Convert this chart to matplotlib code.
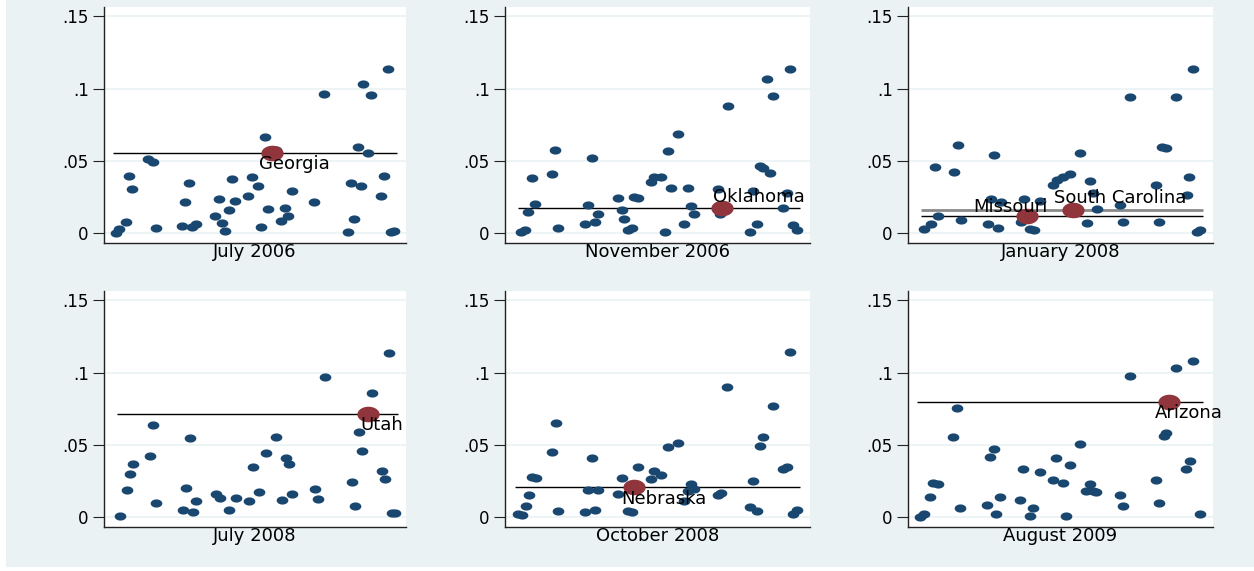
import matplotlib
matplotlib.use("Agg")
import matplotlib.pyplot as plt
import numpy as np
from matplotlib.path import Path
from matplotlib.patches import Rectangle

# x position of each state (shared index, 0-100), y = share, per period
jul06_x = [3.9, 5.0, 7.3, 8.3, 9.4, 14.7, 16.1, 17.1, 25.9, 26.8, 28.0, 29.2, 30.4,
           36.8, 38.1, 39.1, 40.1, 41.3, 42.3, 43.4, 47.8, 48.9, 51.1, 52.1, 53.3,
           54.4, 56.8, 58.6, 59.9, 61.0, 62.1, 69.6, 73.0, 80.7, 81.8, 82.9, 84.0,
           85.1, 85.9, 87.5, 88.4, 91.6, 92.7, 93.9, 94.9, 96.1]
jul06_y = [0.0005, 0.0032, 0.0076, 0.0396, 0.0306, 0.0511, 0.0495, 0.0037, 0.0048,
           0.0219, 0.0350, 0.0044, 0.0067, 0.0120, 0.0235, 0.0071, 0.0018, 0.0163,
           0.0373, 0.0221, 0.0260, 0.0391, 0.0324, 0.0044, 0.0667, 0.0168, 0.0575,
           0.0085, 0.0175, 0.0117, 0.0294, 0.0214, 0.0964, 0.0012, 0.0350, 0.0101,
           0.0598, 0.0329, 0.1031, 0.0557, 0.0959, 0.0255, 0.0398, 0.1132, 0.0007,
           0.0014]

nov06_x = [5.1, 6.6, 7.7, 8.7, 9.8, 15.3, 16.4, 17.5, 26.2, 27.3, 28.4, 29.5, 30.6,
           37.2, 38.3, 39.1, 40.4, 41.5, 42.4, 43.7, 47.9, 49.0, 51.1, 52.5, 53.3,
           54.4, 56.6, 58.8, 59.9, 61.0, 62.1, 69.7, 70.6, 73.0, 80.3, 81.4, 82.5,
           83.6, 84.7, 85.8, 86.9, 88.0, 91.3, 92.3, 93.4, 94.5, 95.6]
nov06_y = [0.0007, 0.0023, 0.0145, 0.0384, 0.0202, 0.0409, 0.0573, 0.0037, 0.0067,
           0.0193, 0.0522, 0.0078, 0.0131, 0.0246, 0.0161, 0.0097, 0.0023, 0.0035,
           0.0251, 0.0246, 0.0357, 0.0393, 0.0391, 0.0007, 0.0571, 0.0317, 0.0686,
           0.0067, 0.0315, 0.0189, 0.0136, 0.0306, 0.0133, 0.0879, 0.0007, 0.0292,
           0.0067, 0.0465, 0.0455, 0.1063, 0.0416, 0.0952, 0.0173, 0.0276, 0.1134,
           0.0055, 0.0021]

jan08_x = [5.4, 7.5, 8.9, 9.9, 15.2, 16.3, 17.4, 26.1, 27.2, 28.3, 29.4, 30.5, 37.0,
           38.1, 40.0, 41.3, 43.3, 47.7, 48.7, 50.9, 53.1, 56.4, 58.6, 59.7, 60.8,
           61.9, 69.5, 70.6, 72.8, 81.3, 82.4, 83.2, 84.6, 87.9, 91.4, 92.2, 93.3,
           94.6, 95.7]
jan08_y = [0.0028, 0.0064, 0.0458, 0.0120, 0.0423, 0.0607, 0.0094, 0.0064, 0.0235,
           0.0543, 0.0039, 0.0214, 0.0078, 0.0235, 0.0028, 0.0023, 0.0223, 0.0336,
           0.0370, 0.0391, 0.0412, 0.0557, 0.0071, 0.0359, 0.0281, 0.0166, 0.0193,
           0.0078, 0.0945, 0.0336, 0.0078, 0.0596, 0.0589, 0.0939, 0.0267, 0.0393,
           0.1136, 0.0007, 0.0023]

jul08_x = [5.3, 7.5, 8.5, 9.6, 15.1, 16.2, 17.3, 26.2, 27.3, 28.4, 29.5, 30.6, 37.0,
           38.3, 41.5, 43.6, 48.1, 49.2, 51.4, 53.6, 56.9, 58.9, 60.2, 61.3, 62.4,
           69.9, 71.0, 73.3, 82.1, 83.2, 84.3, 85.4, 88.7, 91.9, 93.0, 94.3, 95.2,
           96.5]
jul08_y = [0.0012, 0.0192, 0.0300, 0.0369, 0.0425, 0.0637, 0.0097, 0.0051, 0.0201,
           0.0547, 0.0035, 0.0115, 0.0159, 0.0132, 0.0048, 0.0134, 0.0113, 0.0351,
           0.0173, 0.0443, 0.0558, 0.0120, 0.0408, 0.0367, 0.0164, 0.0198, 0.0125,
           0.0972, 0.0245, 0.0081, 0.0591, 0.0462, 0.0856, 0.0318, 0.0268, 0.1138,
           0.0032, 0.0032]

oct08_x = [4.4, 5.7, 6.8, 7.9, 8.7, 10.1, 15.5, 16.6, 17.5, 26.2, 27.3, 28.4, 29.5,
           30.6, 36.9, 38.3, 40.4, 41.5, 43.5, 47.9, 49.0, 51.1, 53.3, 56.6, 58.8,
           59.9, 61.0, 62.1, 69.7, 70.8, 72.8, 80.3, 81.4, 82.7, 83.6, 84.7, 88.0,
           91.3, 92.3, 93.4, 94.5, 95.6]
oct08_y = [0.0021, 0.0016, 0.0076, 0.0152, 0.0282, 0.0275, 0.0455, 0.0655, 0.0044,
           0.0039, 0.0192, 0.0408, 0.0051, 0.0187, 0.0164, 0.0270, 0.0044, 0.0037,
           0.0346, 0.0263, 0.0323, 0.0293, 0.0487, 0.0512, 0.0115, 0.0182, 0.0228,
           0.0194, 0.0155, 0.0171, 0.0902, 0.0074, 0.0252, 0.0044, 0.0494, 0.0554,
           0.0769, 0.0332, 0.0346, 0.1140, 0.0021, 0.0051]

aug09_x = [4.0, 5.3, 7.2, 8.3, 9.7, 14.9, 16.0, 17.1, 26.0, 27.0, 28.1, 29.0, 30.3,
           36.7, 37.8, 40.0, 41.1, 43.2, 47.5, 48.6, 50.8, 51.9, 53.0, 56.3, 58.5,
           59.6, 60.7, 61.8, 69.5, 70.6, 72.8, 81.3, 82.4, 83.8, 84.6, 87.9, 91.2,
           92.3, 93.4, 95.6]
aug09_y = [0.0005, 0.0021, 0.0143, 0.0238, 0.0233, 0.0556, 0.0755, 0.0067, 0.0085,
           0.0415, 0.0471, 0.0025, 0.0143, 0.0118, 0.0337, 0.0009, 0.0062, 0.0312,
           0.0261, 0.0408, 0.0238, 0.0007, 0.0360, 0.0510, 0.0185, 0.0233, 0.0185,
           0.0173, 0.0155, 0.0081, 0.0974, 0.0261, 0.0099, 0.0563, 0.0584, 0.1029,
           0.0332, 0.0390, 0.1080, 0.0021]

periods = ["July 2006", "November 2006", "January 2008",
           "July 2008", "October 2008", "August 2009"]
xs = [jul06_x, nov06_x, jan08_x, jul08_x, oct08_x, aug09_x]
ys = [jul06_y, nov06_y, jan08_y, jul08_y, oct08_y, aug09_y]

# highlighted state(s) per panel: (name, x, y)
highlights = [
    [("Georgia", 55.5, 0.0555)],
    [("Oklahoma", 71.3, 0.0173)],
    [("Missouri", 39.0, 0.0120), ("South Carolina", 54.2, 0.0161)],
    [("Utah", 87.5, 0.0717)],
    [("Nebraska", 42.3, 0.0213)],
    [("Arizona", 85.7, 0.0798)],
]
# label offsets in pixels (text centre relative to marker)
label_offsets = [
    [(23, -11)],
    [(36, 11)],
    [(-17, 9), (47, 12)],
    [(14, -11)],
    [(30, -12)],
    [(19, -11)],
]
line_colors = [["black"], ["black"], ["black", "#8a8a8a"], ["black"], ["black"], ["black"]]
line_widths = [[1.0], [1.0], [1.0, 2.0], [1.0], [1.0], [1.0]]

yticks = [0, 0.05, 0.1, 0.15]
ytick_labels = ["0", ".05", ".1", ".15"]

navy = "#1a476f"
maroon = "#90353b"
bg = "#eaf2f3"

plt.rcParams["font.family"] = ["DejaVu Sans"]

# horizontally stretched ellipse marker like the reference
t = np.linspace(0, 2 * np.pi, 60)
ellipse = Path(np.column_stack([np.cos(t), 0.7 * np.sin(t)]), closed=True)

W, H = 1254, 571
fig = plt.figure(figsize=(W / 100, H / 100), dpi=100)
fig.patch.set_facecolor("white")
fig.patches.append(Rectangle((6 / W, 4 / H), 1, 1, transform=fig.transFigure,
                             facecolor=bg, edgecolor="none", zorder=-5))

col_left = [104, 505, 908]
col_width = [302, 305, 305]
row_top = [7, 291]
ax_h = 236

for i in range(6):
    r, c = divmod(i, 3)
    ax = fig.add_axes([col_left[c] / W, (H - row_top[r] - ax_h) / H,
                       col_width[c] / W, ax_h / H])
    ax.set_zorder(1)
    ax.set_facecolor("white")
    ax.set_xlim(0, 100)
    ax.set_ylim(-0.0066, 0.1563)

    for g in yticks:
        ax.axhline(g, color=bg, lw=1.2, zorder=1)

    ax.plot(xs[i], ys[i], ls="none", marker=ellipse, ms=8.4, mfc=navy,
            mec="none", zorder=3)

    all_x = xs[i] + [h[1] for h in highlights[i]]
    for j, (name, hx, hy) in enumerate(highlights[i]):
        ax.hlines(hy, min(all_x) - 1, max(all_x) + 1, color=line_colors[i][j],
                  lw=line_widths[i][j], zorder=2)
    for j, (name, hx, hy) in enumerate(highlights[i]):
        ax.plot([hx], [hy], ls="none", marker=ellipse, ms=16, mfc=maroon,
                mec="none", zorder=4)
        dx, dy = label_offsets[i][j]
        ax.annotate(name, (hx, hy), xytext=(dx, dy), textcoords="offset pixels",
                    ha="center", va="center", fontsize=13, color="black", zorder=5)

    for s in ["top", "right"]:
        ax.spines[s].set_visible(False)
    ax.spines["left"].set_color("#222222")
    ax.spines["bottom"].set_color("#222222")
    ax.spines["left"].set_linewidth(1.0)
    ax.spines["bottom"].set_linewidth(1.0)

    ax.set_xticks([])
    ax.set_yticks(yticks)
    ax.set_yticklabels(ytick_labels)
    ax.tick_params(axis="y", length=8, width=0.8, pad=3, labelsize=12,
                   color="#222222")
    ax.set_xlabel(periods[i], fontsize=13, labelpad=0)

fig.savefig("out.png", dpi=100, facecolor=fig.get_facecolor())
